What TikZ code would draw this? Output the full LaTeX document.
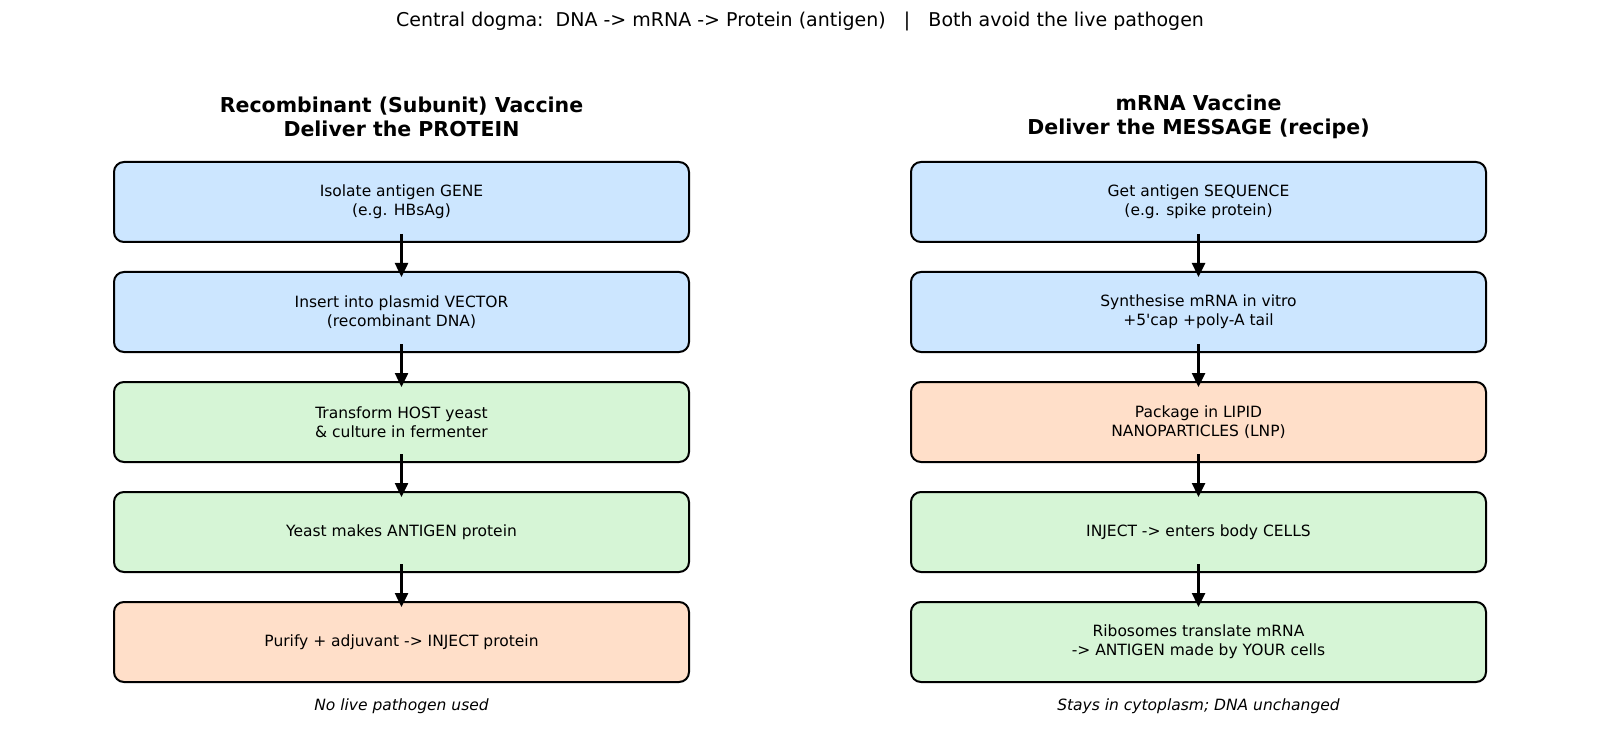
\documentclass[tikz,border=0pt]{standalone}
\usepackage{fontspec}
\setmainfont{DejaVu Sans}
\usetikzlibrary{positioning, arrows.meta}
\definecolor{genblue}{HTML}{CCE6FF}
\definecolor{hostgreen}{HTML}{D6F5D6}
\definecolor{lnporange}{HTML}{FFDFC9}

\begin{document}
\begin{tikzpicture}[x=1pt, y=-1pt,
        stepbox/.style={draw, line width=2pt, rounded corners=10pt, outer sep=0pt,
            minimum width=575pt, minimum height=80pt, inner sep=0pt,
            align=center, font=\fontsize{15.5}{18.6}\selectfont},
        genbox/.style={stepbox, fill=genblue},
        hostbox/.style={stepbox, fill=hostgreen},
        lnpbox/.style={stepbox, fill=lnporange},
        flow/.style={-{Triangle[length=14pt, width=13pt]}, line width=2.5pt},
        heading/.style={align=center, font=\bfseries\fontsize{20.5}{23.8}\selectfont},
        note/.style={font=\itshape\fontsize{15.5}{18}\selectfont}
    ]
    \useasboundingbox (0,0) rectangle (1600,735);

    % Titel
    \node[font=\fontsize{19}{22}\selectfont] (title) at (800,21.5)
        {Central dogma:\ \ DNA -> mRNA -> Protein (antigen)\ \ \ |\ \ \ Both avoid the live pathogen};

    % Linke Spalte: Protein
    \node[heading] (headL) at (401.5,117) {Recombinant (Subunit) Vaccine\\Deliver the PROTEIN};
    \node[genbox] (l1) at (401.5,202) {Isolate antigen GENE\\(e.g. HBsAg)};
    \node[genbox, below=30pt of l1] (l2) {Insert into plasmid VECTOR\\(recombinant DNA)};
    \node[hostbox, below=30pt of l2] (l3) {Transform HOST yeast\\\& culture in fermenter};
    \node[hostbox, below=30pt of l3] (l4) {Yeast makes ANTIGEN protein};
    \node[lnpbox, below=30pt of l4] (l5) {Purify + adjuvant -> INJECT protein};
    \node[note] (noteL) at (401.5,706.5) {No live pathogen used};

    % Rechte Spalte: mRNA
    \node[heading] (headR) at (1198.5,117) {mRNA Vaccine\\Deliver the MESSAGE (recipe)};
    \node[genbox] (r1) at (1198.5,202) {Get antigen SEQUENCE\\(e.g. spike protein)};
    \node[genbox, below=30pt of r1] (r2) {Synthesise mRNA in vitro\\+5\textquotesingle cap +poly-A tail};
    \node[lnpbox, below=30pt of r2] (r3) {Package in LIPID\\NANOPARTICLES (LNP)};
    \node[hostbox, below=30pt of r3] (r4) {INJECT -> enters body CELLS};
    \node[hostbox, below=30pt of r4] (r5) {Ribosomes translate mRNA\\-> ANTIGEN made by YOUR cells};
    \node[note] (noteR) at (1198.5,706.5) {Stays in cytoplasm; DNA unchanged};

    % Pfeile
    \foreach \a/\b in {l1/l2, l2/l3, l3/l4, l4/l5, r1/r2, r2/r3, r3/r4, r4/r5}
        \draw[flow] ([yshift=8pt]\a.south) -- ([yshift=-5pt]\b.north);

\end{tikzpicture}
\end{document}
